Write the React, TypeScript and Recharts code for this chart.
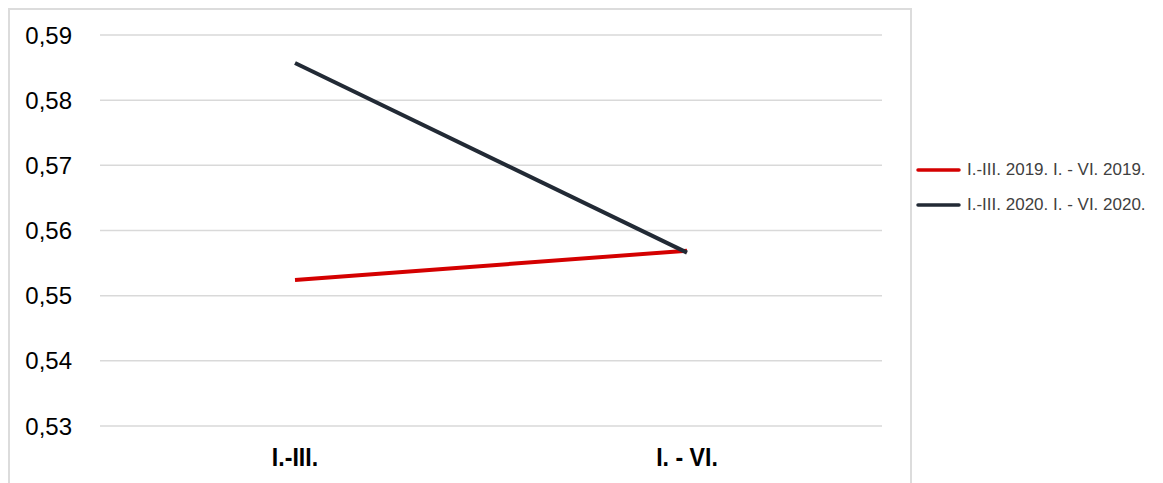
import React from "react";
import { LineChart, Line, XAxis, YAxis, CartesianGrid } from "recharts";

const categories = ["I.-III.", "I. - VI."];
const values2019 = [0.5524, 0.5569];
const values2020 = [0.5857, 0.5566];
const yTicks = [0.53, 0.54, 0.55, 0.56, 0.57, 0.58, 0.59];

const SERIES = [
  { key: "y2019", name: "I.-III. 2019. I. - VI. 2019.", color: "#d40000" },
  { key: "y2020", name: "I.-III. 2020. I. - VI. 2020.", color: "#222a35" },
];

const data = categories.map((c, i) => ({
  category: c,
  y2019: values2019[i],
  y2020: values2020[i],
}));

// narrow bold labels (Arial Narrow look)
const CategoryTick = (props: any) => {
  const { x, y, payload } = props;
  return (
    <g transform={`translate(${x},${y}) scale(0.89,1)`}>
      <text
        x={0}
        y={0}
        dy="0.71em"
        textAnchor="middle"
        fontFamily="'Liberation Sans', Arial, sans-serif"
        fontWeight="bold"
        fontSize={26}
        fill="#000"
      >
        {payload.value}
      </text>
    </g>
  );
};

const ChartLegend = () => (
  <div style={{ position: "absolute", left: 916, top: 152, width: 240 }}>
    {SERIES.map((s) => (
      <div
        key={s.key}
        style={{ display: "flex", alignItems: "center", height: 35 }}
      >
        <svg width={46} height={10}>
          <line
            x1={2}
            y1={5}
            x2={43}
            y2={5}
            stroke={s.color}
            strokeWidth={3.5}
            strokeLinecap="round"
          />
        </svg>
        <span
          style={{
            fontFamily: "'Liberation Sans', Arial, sans-serif",
            fontSize: 17,
            color: "#404040",
            marginLeft: 5,
            whiteSpace: "nowrap",
          }}
        >
          {s.name}
        </span>
      </div>
    ))}
  </div>
);

const App = () => {
  return (
    <div
      style={{
        position: "absolute",
        left: 0,
        top: 0,
        width: 1163,
        height: 483,
        overflow: "hidden",
        background: "#fff",
      }}
    >
      <div
        style={{
          position: "absolute",
          left: 8,
          top: 8,
          width: 900,
          height: 520,
          border: "2px solid #dcdcdc",
        }}
      />
      <LineChart
        width={1163}
        height={483}
        data={data}
        margin={{ top: 35, right: 281, bottom: 17, left: 20 }}
      >
        <CartesianGrid vertical={false} stroke="#d9d9d9" strokeWidth={1.5} />
        <XAxis
          dataKey="category"
          axisLine={false}
          tickLine={false}
          tickSize={0}
          tickMargin={22}
          height={40}
          padding={{ left: 195, right: 195 }}
          tick={<CategoryTick />}
        />
        <YAxis
          domain={[0.53, 0.59]}
          ticks={yTicks}
          axisLine={false}
          tickLine={false}
          tickSize={0}
          tickMargin={28}
          width={80}
          tickFormatter={(v: number) => v.toFixed(2).replace(".", ",")}
          tick={{
            fontFamily: "'Liberation Sans', Arial, sans-serif",
            fontSize: 24,
            fill: "#000",
          }}
        />
        {SERIES.map((s) => (
          <Line
            key={s.key}
            dataKey={s.key}
            name={s.name}
            stroke={s.color}
            strokeWidth={4}
            dot={false}
            activeDot={false}
            isAnimationActive={false}
          />
        ))}
      </LineChart>
      <ChartLegend />
    </div>
  );
};

export default App;
